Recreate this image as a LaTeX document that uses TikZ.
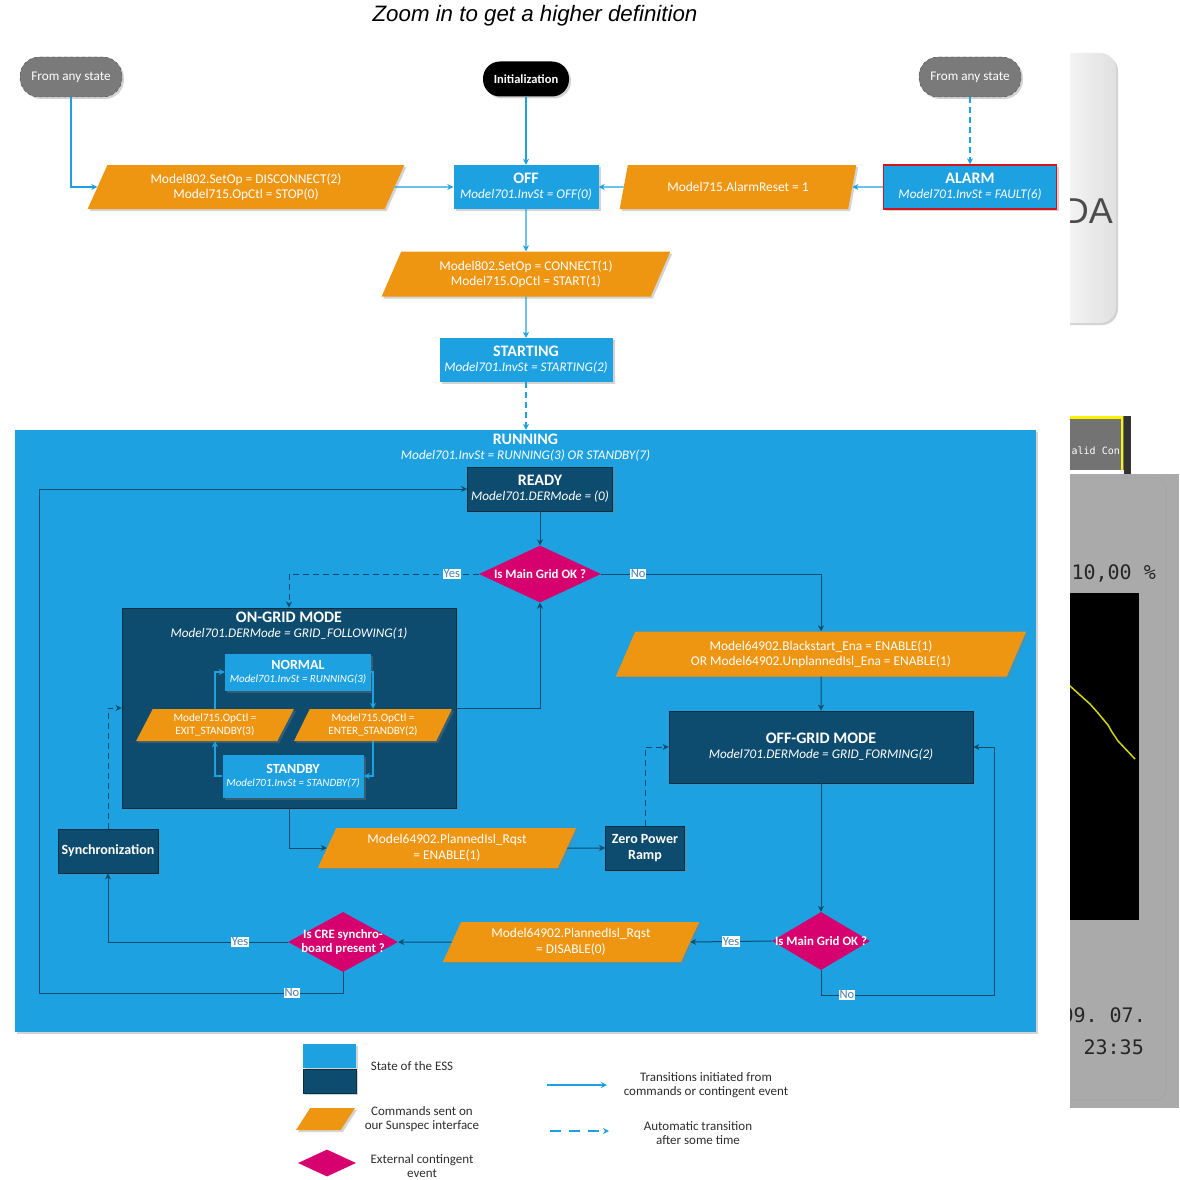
\documentclass[tikz,border=0pt]{standalone}
\usepackage{fontspec}
\setmainfont{Carlito}
\newfontfamily\headfont{Liberation Sans}
\newfontfamily\screenfont{DejaVu Sans Mono}
\usetikzlibrary{arrows.meta,positioning,shapes.geometric,shadows}
\definecolor{esslight}{RGB}{29,161,224}
\definecolor{essdark}{RGB}{13,76,110}
\definecolor{cmdcol}{RGB}{238,149,17}
\definecolor{eventcol}{RGB}{214,0,111}
\definecolor{anycol}{RGB}{122,122,122}
\definecolor{alarmcol}{RGB}{214,18,28}
\definecolor{legcol}{RGB}{45,45,45}
\definecolor{yncol}{RGB}{70,130,175}
\definecolor{screengray}{RGB}{170,170,170}
\definecolor{tracecol}{RGB}{215,215,0}
\newcommand{\stlabel}[2]{{\bfseries\fontsize{16}{16}\selectfont #1}\\{\itshape #2}}

\begin{document}
\begin{tikzpicture}[x=1pt,y=-1pt,>={Stealth[length=6pt,width=6pt]},
  shade/.style={drop shadow={shadow xshift=2pt,shadow yshift=-2pt,opacity=0.35}},
  stbox/.style={rectangle,fill=esslight,text=white,align=center,inner sep=1pt,
    minimum height=44pt,font=\fontsize{13.2}{15}\selectfont,shade},
  stdark/.style={stbox,fill=essdark,draw=essdark!60!black,line width=0.8pt},
  cmd/.style={trapezium,trapezium left angle=65,trapezium right angle=115,
    trapezium stretches=true,fill=cmdcol,text=white,align=center,inner sep=1pt,
    minimum height=44pt,font=\fontsize{13.4}{15.5}\selectfont,shade},
  decision/.style={diamond,fill=eventcol,inner sep=0pt,minimum width=122pt,minimum height=57pt},
  dectext/.style={text=white,align=center,font=\bfseries\fontsize{12.8}{13.5}\selectfont},
  anystate/.style={rectangle,rounded corners=19pt,fill=anycol,draw=anycol!60!black,dashed,
    text=white,minimum width=102pt,minimum height=40pt,font=\fontsize{13.2}{14}\selectfont,shade},
  flow/.style={->,esslight,line width=1.1pt},
  autoflow/.style={flow,dash pattern=on 6pt off 4pt},
  runflow/.style={->,essdark,line width=1pt},
  runauto/.style={runflow,dash pattern=on 6pt off 4pt},
  yn/.style={fill=white,text=yncol,inner sep=1pt,font=\fontsize{12.5}{13}\selectfont},
  legtext/.style={text=legcol,align=center,font=\fontsize{13}{14.5}\selectfont},
]
\useasboundingbox (0,0) rectangle (1179,1180);

\node[font=\headfont\itshape\fontsize{22.3}{26}\selectfont] (title) at (535,16) {Zoom in to get a higher definition};

% top row
\node[anystate] (anyL) at (71,77) {From any state};
\node[anystate,draw=none,fill=black,solid,minimum width=86pt,minimum height=35pt,rounded corners=17pt,
  font=\bfseries\fontsize{12.5}{14}\selectfont] (init) at (526,79) {Initialization};
\node[anystate] (anyR) at (970,77) {From any state};

\node[cmd,minimum width=317pt] (cmdoff) at (246,187) {Model802.SetOp = DISCONNECT(2)\\Model715.OpCtl = STOP(0)};
\node[stbox,minimum width=145pt] (off) at (526,187) {\stlabel{OFF}{Model701.InvSt = OFF(0)}};
\node[cmd,minimum width=237pt] (reset) at (738,187) {Model715.AlarmReset = 1};
\node[stbox,minimum width=173pt,draw=alarmcol,line width=1.3pt] (alarm) at (970,187) {\stlabel{ALARM}{Model701.InvSt = FAULT(6)}};
\node[cmd,minimum width=289pt,minimum height=45pt] (cmdon) at (526,274) {Model802.SetOp = CONNECT(1)\\Model715.OpCtl = START(1)};
\node[stbox,minimum width=173pt] (starting) at (526,360) {\stlabel{STARTING}{Model701.InvSt = STARTING(2)}};

\draw[flow] (anyL.south) |- (cmdoff.west);
\draw[flow] (cmdoff.east) -- (off.west);
\draw[flow] (init.south) -- (off.north);
\draw[autoflow] (anyR.south) -- (alarm.north);
\draw[flow] (alarm.west) -- (reset.east);
\draw[flow] (reset.west) -- (off.east);
\draw[flow] (off.south) -- (cmdon.north);
\draw[flow] (cmdon.south) -- (starting.north);

% running state
\node[stbox,minimum width=1021pt,minimum height=602pt] (running) at (525.5,731) {};
\node[text=white,align=center,font=\fontsize{13.2}{15}\selectfont,below=1pt of running.north] (runtitle)
  {\stlabel{RUNNING}{Model701.InvSt = RUNNING(3) OR STANDBY(7)}};
\draw[autoflow] (starting.south) -- (starting.south |- running.north);

\node[stdark,minimum width=145pt] (ready) at (540,489) {\stlabel{READY}{Model701.DERMode = (0)}};
\node[decision] (grid1) at (540,574) {};
\node[dectext] at (grid1) {Is Main Grid OK ?};

\node[stdark,minimum width=334pt,minimum height=200pt] (ongrid) at (289,708) {};
\node[text=white,align=center,font=\fontsize{13.2}{15}\selectfont,below=1pt of ongrid.north] (ongridtitle)
  {\stlabel{ON-GRID MODE}{Model701.DERMode = GRID\_FOLLOWING(1)}};
\node[stbox,minimum width=146pt,minimum height=37pt,font=\fontsize{11}{12.5}\selectfont] (normal) at (298,672)
  {{\bfseries\fontsize{14}{14}\selectfont NORMAL}\\{\itshape Model701.InvSt = RUNNING(3)}};
\node[cmd,minimum width=158pt,minimum height=32pt,font=\fontsize{11.2}{13}\selectfont] (exitsb) at (215,725)
  {Model715.OpCtl =\\EXIT\_STANDBY(3)};
\node[cmd,minimum width=158pt,minimum height=32pt,font=\fontsize{11.2}{13}\selectfont] (entersb) at (373,725)
  {Model715.OpCtl =\\ENTER\_STANDBY(2)};
\node[stbox,minimum width=141pt,minimum height=43pt,font=\fontsize{11}{12.5}\selectfont] (standby) at (293,776)
  {{\bfseries\fontsize{14}{14}\selectfont STANDBY}\\{\itshape Model701.InvSt = STANDBY(7)}};

\draw[flow] (standby.west) -| (exitsb.south);
\draw[flow] (exitsb.north) |- (normal.west);
\draw[flow] (normal.east) -| (entersb.north);
\draw[flow] (entersb.south) |- (standby.east);

\node[cmd,minimum width=411pt,minimum height=45pt] (blackstart) at (821,654)
  {Model64902.Blackstart\_Ena = ENABLE(1)\\OR Model64902.UnplannedIsl\_Ena = ENABLE(1)};
\node[stdark,minimum width=304pt,minimum height=72pt] (offgrid) at (821,747)
  {\stlabel{OFF-GRID MODE}{Model701.DERMode = GRID\_FORMING(2)}};
\node[cmd,minimum width=259pt,minimum height=40pt] (planon) at (447,848) {Model64902.PlannedIsl\_Rqst\\= ENABLE(1)};
\node[stdark,minimum width=79pt,font=\bfseries\fontsize{14}{15.5}\selectfont] (zpr) at (645,848) {Zero Power\\Ramp};
\node[stdark,minimum width=100pt,font=\bfseries\fontsize{14}{15.5}\selectfont] (sync) at (108,851) {Synchronization};
\node[decision,minimum width=98pt,minimum height=58pt] (grid2) at (821,941) {};
\node[dectext] at (grid2) {Is Main Grid OK ?};
\node[cmd,minimum width=257pt,minimum height=40pt] (planoff) at (571,942) {Model64902.PlannedIsl\_Rqst\\= DISABLE(0)};
\node[decision,minimum width=110pt,minimum height=60pt] (grid3) at (343,942) {};
\node[dectext] at (grid3) {Is CRE synchro-\\board present ?};
\coordinate (noR) at (994,995);
\coordinate (noL) at (39,993);

\draw[runflow] (ready.south) -- (grid1.north);
\draw[runauto] (grid1.west) -| node[yn,pos=0.071] {Yes} (ongrid.north);
\draw[runflow] (grid1.east) -| node[yn,pos=0.084] {No} (blackstart.north);
\draw[runflow] (ongrid.east) -| (grid1.south);
\draw[runauto] (sync.north) |- (ongrid.west);
\draw[runflow] (ongrid.south) |- (planon.west);
\draw[runflow] (planon.east) -- (zpr.west);
\draw[runauto] (zpr.north) |- (offgrid.west);
\draw[runflow] (blackstart.south) -- (offgrid.north);
\draw[runflow] (offgrid.south) -- (grid2.north);
\draw[runflow] (grid2.west) -- node[yn] {Yes} (planoff.east);
\draw[runflow] (grid2.south) |- node[yn,pos=0.575] {No} (noR) |- (offgrid.east);
\draw[runflow] (planoff.west) -- (grid3.east);
\draw[runflow] (grid3.west) -| node[yn,pos=0.133] {Yes} (sync.south);
\draw[runflow] (grid3.south) |- node[yn,pos=0.584] {No} (noL) |- (ready.west);

% legend
\node[stbox,minimum width=53pt,minimum height=24pt] (legstate) at (329.5,1056) {};
\node[stdark,minimum width=53pt,minimum height=24pt] (legstatedark) at (329.5,1081) {};
\node[legtext] (legstatetxt) at (412,1066) {State of the ESS};
\node[cmd,minimum width=59pt,minimum height=22pt] (legcmd) at (325.5,1119) {};
\node[legtext] (legcmdtxt) at (422,1119) {Commands sent on\\our Sunspec interface};
\node[decision,minimum width=58pt,minimum height=27pt] (legevent) at (327,1163) {};
\node[legtext] (legeventtxt) at (422,1166) {External contingent\\event};
\coordinate (legflowa) at (547,1085);
\coordinate (legflowb) at (607,1085);
\coordinate (legautoa) at (550,1131);
\coordinate (legautob) at (609,1131);
\draw[flow] (legflowa) -- (legflowb);
\draw[flow,dash pattern=on 11pt off 8pt] (legautoa) -- (legautob);
\node[legtext] (legflowtxt) at (706,1085) {Transitions initiated from\\commands or contingent event};
\node[legtext] (legautotxt) at (698,1133) {Automatic transition\\after some time};

% screenshot leftovers on the right
\begin{scope}
  \clip (1070,0) rectangle (1179,1180);
  \shade[left color=white,right color=black!12,rounded corners=16pt] (1040,53) rectangle (1116,323);
  \node[font=\headfont\fontsize{36}{36}\selectfont,text=black!70,anchor=east,inner sep=0pt] (dalogo) at (1113,211) {DA};
  \fill[black!55] (1060,416) rectangle (1124,470);
  \draw[yellow,line width=2.5pt] (1060,417.5) -- (1122,417.5) -- (1122,470);
  \fill[black!80] (1124,416) rectangle (1131,475);
  \node[font=\screenfont\fontsize{10}{10}\selectfont,text=white,anchor=east,inner sep=0pt] (lidcon) at (1120,451) {alid Con};
  \fill[screengray] (1060,474) rectangle (1179,1108);
  \draw[black!35,line width=1pt,rounded corners=10pt] (1040,478) -- (1166,478) -- (1166,1100) -- (1040,1100);
  \fill[black] (1060,593) rectangle (1139,920);
  \draw[tracecol,line width=1.5pt] (1060,680) -- (1070,686) -- (1090,704) -- (1098,713) -- (1108,725)
    -- (1112,732) -- (1118,741) -- (1135,759);
  \node[font=\screenfont\fontsize{20}{20}\selectfont,text=black!85,anchor=east,inner sep=0pt] (pct) at (1156,573) {10,00 \%};
  \node[font=\screenfont\fontsize{20}{20}\selectfont,text=black!85,anchor=east,inner sep=0pt] (date) at (1146,1015) {09.~07.};
  \node[font=\screenfont\fontsize{20}{20}\selectfont,text=black!85,anchor=east,inner sep=0pt] (clock) at (1144,1047) {23:35};
\end{scope}
\end{tikzpicture}
\end{document}
